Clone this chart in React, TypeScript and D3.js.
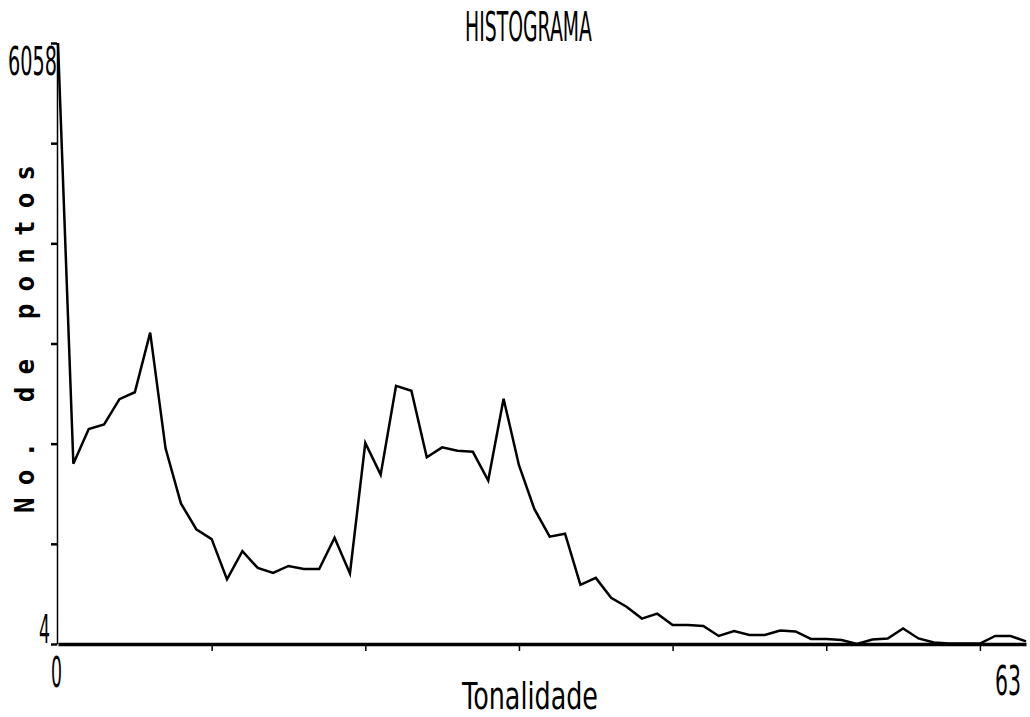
import React, { useEffect, useRef } from "react";
import * as d3 from "d3";

// contagem de pontos por tonalidade (0..63)
const pontos: number[] = [
  6058, 1820, 2170, 2215, 2470, 2540, 3140, 1975, 1420, 1160,
  1060, 655, 940, 770, 720, 790, 760, 760, 1075, 715,
  2030, 1710, 2605, 2555, 1885, 1985, 1950, 1940, 1650, 2475,
  1805, 1365, 1085, 1115, 600, 670, 470, 380, 260, 310,
  195, 195, 185, 85, 135, 95, 95, 140, 130, 55,
  55, 45, 4, 50, 60, 160, 60, 20, 8, 8,
  8, 85, 85, 30,
];

const xMin = 0;
const xMax = 63;
const yMin = 4;
const yMax = 6058;
const xTicks: number[] = [10, 20, 30, 40, 50, 60];
const yDivisoes = 6;

const titulo = "HISTOGRAMA";
const xLabel = "Tonalidade";
const yLabel = "No. de pontos";

const W = 1030;
const H = 717;

const fonte = "'DejaVu Sans', sans-serif";

function Histograma() {
  const ref = useRef<SVGSVGElement>(null);

  useEffect(() => {
    const svg = d3.select(ref.current);
    svg.selectAll("*").remove();

    const x = d3.scaleLinear().domain([xMin, xMax]).range([58, 1026]);
    const y = d3.scaleLinear().domain([yMin, yMax]).range([644, 43]);

    const yTicks = d3.range(0, yDivisoes + 1).map((i) => yMin + (i * (yMax - yMin)) / yDivisoes);

    // eixo vertical
    const gy = svg
      .append("g")
      .attr("transform", `translate(${x(xMin) - 1},0)`)
      .call(d3.axisLeft(y).tickValues(yTicks).tickSize(6).tickSizeOuter(0).tickFormat(() => ""));
    gy.select(".domain").attr("stroke", "#000").attr("stroke-width", 1.5);
    gy.selectAll(".tick line").attr("stroke", "#000").attr("stroke-width", 2.5);

    // eixo horizontal
    const gx = svg
      .append("g")
      .attr("transform", `translate(0,${y(yMin)})`)
      .call(d3.axisBottom(x).tickValues(xTicks).tickSize(7).tickSizeOuter(0).tickFormat(() => ""));
    gx.select(".domain").attr("stroke", "#000").attr("stroke-width", 3.5);
    gx.selectAll(".tick line").attr("stroke", "#000").attr("stroke-width", 1.5);

    // curva do histograma
    const linha = d3
      .line<number>()
      .x((d, i) => x(i))
      .y((d) => y(d));

    svg
      .append("path")
      .datum(pontos)
      .attr("d", linha)
      .attr("fill", "none")
      .attr("stroke", "#000")
      .attr("stroke-width", 2.5)
      .attr("stroke-linejoin", "miter");

    // textos estreitos e altos, como na impressao original: mede e comprime na horizontal
    const texto = (t: string, px: number, py: number, len: number, size: number) => {
      const el = svg
        .append("text")
        .attr("font-family", fonte)
        .attr("font-size", size)
        .attr("fill", "#000")
        .text(t);
      const w = (el.node() as SVGTextElement).getComputedTextLength() || len;
      el.attr("transform", `translate(${px},${py}) scale(${len / w},1)`);
    };

    texto(titulo, 465, 41, 127, 40);
    texto(String(yMax), 8, 75, 49, 39);
    texto(String(yMin), 39, 643, 11, 39);
    texto(String(xMin), 51, 687, 11, 42);
    texto(String(xMax), 995, 695, 26, 41);
    texto(xLabel, 462, 709, 136, 38);

    svg
      .append("text")
      .attr("transform", "translate(34,339) rotate(-90)")
      .attr("text-anchor", "middle")
      .attr("font-family", "'DejaVu Sans Mono', monospace")
      .attr("font-weight", "bold")
      .attr("font-size", 26)
      .attr("textLength", 348)
      .attr("lengthAdjust", "spacing")
      .attr("fill", "#000")
      .text(yLabel);
  }, []);

  return (
    <svg
      ref={ref}
      width={W}
      height={H}
      style={{ position: "absolute", left: 0, top: 0, background: "#fff", display: "block" }}
    ></svg>
  );
}

export default function App() {
  return <Histograma />;
}
